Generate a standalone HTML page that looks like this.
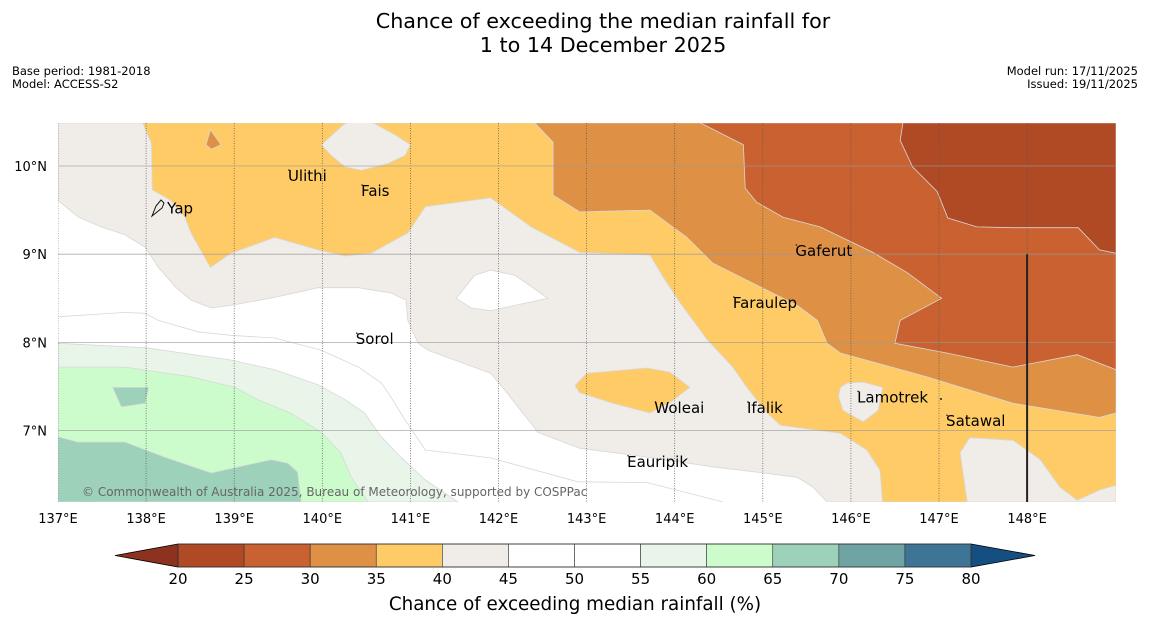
<!DOCTYPE html>
<html><head><meta charset="utf-8">
<style>
html,body{margin:0;padding:0;background:#fff;}
svg{display:block;font-family:"DejaVu Sans","Liberation Sans",sans-serif;}
</style></head>
<body>
<svg id="chart" width="1150" height="644" viewBox="0 0 1150 644" xmlns="http://www.w3.org/2000/svg">
<rect x="0" y="0" width="1150" height="644" fill="#fff"/>
<text x="603" y="28" font-size="20.7" text-anchor="middle" fill="#000">Chance of exceeding the median rainfall for</text>
<text x="603" y="52" font-size="20.7" text-anchor="middle" fill="#000">1 to 14 December 2025</text>
<text x="12" y="75" font-size="11.5">Base period: 1981-2018</text>
<text x="12" y="88" font-size="11.5">Model: ACCESS-S2</text>
<text x="1138" y="75" font-size="11.5" text-anchor="end">Model run: 17/11/2025</text>
<text x="1138" y="88" font-size="11.5" text-anchor="end">Issued: 19/11/2025</text>
<defs><clipPath id="mapclip"><rect x="58" y="123" width="1058" height="379"/></clipPath></defs>
<g id="map" clip-path="url(#mapclip)"></g>
<g id="axes"></g>
<g id="cbar"></g>
<text x="575" y="610" font-size="18.3" text-anchor="middle">Chance of exceeding median rainfall (%)</text>
</svg>
<script>
// ---- data ----
const lonTicks = [137,138,139,140,141,142,143,144,145,146,147,148];
const latTicks = [7,8,9,10];
const levelBounds = [20,25,30,35,40,45,50,55,60,65,70,75,80];
const levelColors = ["#b04a25","#c96230","#de9045","#fecb66","#f0ece7","#ffffff","#ffffff","#eaf5ea","#ccfccb","#9dd1ba","#6fa4a4","#3e7597"];
const underColor = "#8e3220";
const overColor = "#154e80";
const region40 = [[137,10.49],[149.01,10.49],[149.01,6.19],[145.73,6.19],[145.57,6.36],[145.39,6.47],[145.00,6.52],[144.43,6.59],[143.69,6.70],[142.92,6.80],[142.45,6.98],[142.07,7.46],[141.91,7.65],[141.20,7.91],[141.09,7.99],[140.97,8.25],[140.95,8.48],[140.78,8.56],[140.41,8.62],[139.95,8.62],[139.46,8.51],[138.96,8.42],[138.74,8.39],[138.51,8.48],[138.33,8.63],[138.14,8.85],[137.99,9.08],[137.76,9.22],[137.49,9.31],[137.23,9.42],[137,9.61]];
const region45blob = [[141.52,8.50],[141.73,8.76],[141.91,8.82],[142.19,8.76],[142.56,8.50],[141.91,8.36],[141.69,8.39]];
const region35 = [[137.96,10.49],[149.01,10.49],[149.01,6.38],[148.83,6.33],[148.57,6.21],[148.37,6.36],[148.15,6.67],[147.84,6.89],[147.35,6.92],[147.24,6.75],[147.32,6.19],[146.36,6.19],[146.33,6.55],[146.18,6.78],[145.88,6.97],[145.20,7.06],[145.05,7.20],[144.82,7.49],[144.66,7.72],[144.37,8.03],[144.06,8.45],[143.87,8.74],[143.72,8.99],[142.92,9.02],[142.37,9.31],[141.91,9.64],[141.17,9.54],[140.97,9.24],[140.55,9.01],[140.26,8.98],[139.95,9.05],[139.46,9.19],[138.96,9.01],[138.73,8.85],[138.51,9.24],[138.44,9.42],[138.28,9.61],[138.07,9.73],[138.06,10.26]];
const region40blobTop = [[139.99,10.24],[140.23,10.46],[140.33,10.52],[140.52,10.52],[140.83,10.35],[141.00,10.24],[140.94,10.12],[140.75,10.03],[140.44,9.95],[140.26,9.99],[140.10,10.12]];
const region40blobLamotrek = [[145.88,7.49],[145.96,7.54],[146.14,7.55],[146.36,7.49],[146.31,7.23],[146.14,7.10],[145.91,7.23],[145.86,7.38]];
const region35blobWoleai = [[142.87,7.51],[143.00,7.65],[143.69,7.71],[143.95,7.66],[144.17,7.49],[143.95,7.32],[143.72,7.20],[143.30,7.31],[142.92,7.43]];
const region30 = [[142.41,10.49],[149.01,10.49],[149.01,7.20],[148.82,7.15],[147.84,7.31],[146.86,7.61],[145.88,7.88],[145.73,7.99],[145.62,8.25],[145.39,8.42],[144.97,8.63],[144.43,8.90],[144.14,9.19],[143.72,9.50],[142.92,9.48],[142.62,9.67],[142.62,10.27]];
const region30spot = [[138.73,10.41],[138.85,10.24],[138.74,10.19],[138.68,10.24]];
const region25 = [[144.29,10.49],[149.01,10.49],[149.01,7.69],[148.57,7.86],[147.84,7.72],[147.09,7.88],[146.50,7.99],[146.56,8.25],[147.03,8.50],[146.64,8.79],[146.25,9.02],[145.65,9.31],[145.23,9.42],[144.93,9.59],[144.80,9.75],[144.78,10.24]];
const region20 = [[146.59,10.49],[149.01,10.49],[149.01,9.01],[148.82,9.05],[148.58,9.30],[147.84,9.30],[147.43,9.31],[147.10,9.41],[146.98,9.71],[146.70,9.99],[146.56,10.29]];
const region55 = [[137,7.99],[137.99,7.94],[138.96,7.80],[139.46,7.69],[139.95,7.52],[140.26,7.35],[140.48,7.20],[140.67,6.93],[140.89,6.70],[141.17,6.44],[141.54,6.19],[137,6.19]];
const region60 = [[137,7.72],[137.76,7.72],[138.51,7.61],[139.01,7.49],[139.27,7.35],[139.64,7.20],[139.99,6.98],[140.21,6.75],[140.33,6.47],[140.52,6.19],[137,6.19]];
const region65 = [[137,6.93],[137.23,6.87],[137.76,6.87],[138.21,6.70],[138.74,6.52],[139.42,6.67],[139.61,6.63],[139.72,6.53],[139.76,6.19],[137,6.19]];
const region65square = [[137.62,7.49],[138.03,7.49],[137.99,7.31],[137.72,7.27]];
const contour50 = [[137,8.29],[137.76,8.34],[137.99,8.33],[138.14,8.25],[138.59,8.12],[138.96,8.08],[139.46,8.05],[139.99,7.91],[140.41,7.72],[140.67,7.54],[140.78,7.38],[140.94,7.12],[141.17,6.78],[141.91,6.69],[142.90,6.42],[143.69,6.41],[144.55,6.19]];
const placeNames = ["Ulithi","Fais","Yap","Gaferut","Faraulep","Sorol","Woleai","Ifalik","Lamotrek","Satawal","Eauripik"];
const placeLon = [139.61,140.44,138.24,145.37,144.66,140.38,143.77,144.82,146.07,147.08,143.46];
const placeLat = [9.83,9.66,9.46,8.98,8.39,7.98,7.20,7.20,7.32,7.05,6.59];

// ---- axis functions ----
const X0=58, PXLON=88.1, Y10=166, PXLAT=88.2;
function xs(lon){return X0+(lon-137)*PXLON;}
function ys(lat){return Y10-(lat-10)*PXLAT;}
const NS="http://www.w3.org/2000/svg";
function mk(tag,parent){const e=document.createElementNS(NS,tag);parent.appendChild(e);return e;}
const map=document.getElementById('map');
const axes=document.getElementById('axes');
const cbar=document.getElementById('cbar');
function colorFor(v){return levelColors[levelBounds.indexOf(v)];}
function pts(arr){return arr.map(p=>xs(p[0]).toFixed(1)+","+ys(p[1]).toFixed(1)).join(" ");}
function region(arr,level,name){
  const p=mk('polygon',map);
  
  
  p.setAttribute('points',pts(arr));
  p.setAttribute('fill',colorFor(level));
  p.setAttribute('stroke','#d8d8d8');
  p.setAttribute('stroke-width','0.8');
}
const bg=mk('rect',map);


bg.setAttribute('x',58);bg.setAttribute('y',123);bg.setAttribute('width',1058);bg.setAttribute('height',379);bg.setAttribute('fill','#ffffff');
region(region40,40,'region-40-45');
region(region45blob,45,'region-45-50-blob');
region(region35,35,'region-35-40');
region(region40blobTop,40,'region-40-45-north-blob');
region(region40blobLamotrek,40,'region-40-45-lamotrek-blob');
region(region35blobWoleai,35,'region-35-40-woleai-blob');
region(region30,30,'region-30-35');
region(region30spot,30,'region-30-35-spot');
region(region25,25,'region-25-30');
region(region20,20,'region-20-25');
region(region55,55,'region-55-60');
region(region60,60,'region-60-65');
region(region65,65,'region-65-70');
region(region65square,65,'region-65-70-square');
const cl=mk('polyline',map);


cl.setAttribute('points',pts(contour50));
cl.setAttribute('fill','none');cl.setAttribute('stroke','#d8d8d8');cl.setAttribute('stroke-width','0.8');

lonTicks.forEach(l=>{
  const g=mk('line',map);
  
  
  g.setAttribute('x1',xs(l));g.setAttribute('x2',xs(l));g.setAttribute('y1',123);g.setAttribute('y2',502);
  g.setAttribute('stroke','#555');g.setAttribute('stroke-width','0.7');g.setAttribute('stroke-dasharray','1,1.5');
  const t=mk('text',axes);
  
  
  t.setAttribute('x',xs(l));t.setAttribute('y',523);t.setAttribute('font-size','13');t.setAttribute('text-anchor','middle');
  t.textContent=l+"°E";
});
latTicks.forEach(l=>{
  const g=mk('line',map);
  
  
  g.setAttribute('x1',58);g.setAttribute('x2',1116);g.setAttribute('y1',ys(l));g.setAttribute('y2',ys(l));
  g.setAttribute('stroke','#999');g.setAttribute('stroke-width','0.8');g.setAttribute('opacity','0.8');
  const t=mk('text',axes);
  
  
  t.setAttribute('x',47);t.setAttribute('y',ys(l)+5);t.setAttribute('font-size','13');t.setAttribute('text-anchor','end');
  t.textContent=l+"°N";
});
const vl=mk('line',map);


vl.setAttribute('x1',xs(148));vl.setAttribute('x2',xs(148));vl.setAttribute('y1',ys(9));vl.setAttribute('y2',502);
vl.setAttribute('stroke','#222');vl.setAttribute('stroke-width','2');

placeNames.forEach((n,i)=>{
  const d=mk('circle',map);
  
  
  d.setAttribute('cx',xs(placeLon[i])+1);d.setAttribute('cy',ys(placeLat[i])-11);d.setAttribute('r','0.8');d.setAttribute('fill','#222');
  const t=mk('text',map);
  
  
  t.setAttribute('x',xs(placeLon[i]));t.setAttribute('y',ys(placeLat[i]));t.setAttribute('font-size','15');t.setAttribute('fill','#000');
  t.textContent=n;
});
const yapIsl=mk('path',map);


yapIsl.setAttribute('d','M152,216 L156,206 L161,200 L164,203 L162,208 L157,212 Z');
yapIsl.setAttribute('fill','none');yapIsl.setAttribute('stroke','#111');yapIsl.setAttribute('stroke-width','1');
const dot=mk('circle',map);


dot.setAttribute('cx',941);dot.setAttribute('cy',399);dot.setAttribute('r','1');dot.setAttribute('fill','#222');
const cp=mk('text',map);


cp.setAttribute('x',82);cp.setAttribute('y',496);cp.setAttribute('font-size','12');cp.setAttribute('fill','#666');
cp.textContent="© Commonwealth of Australia 2025, Bureau of Meteorology, supported by COSPPac";

const CB0=178, CB1=971, CBT=544, CBB=567;
function cx(v){return CB0+(v-20)*(CB1-CB0)/60;}
const lt=mk('polygon',cbar);


lt.setAttribute('points',`${cx(20)},${CBT} 115,${(CBT+CBB)/2} ${cx(20)},${CBB}`);
lt.setAttribute('fill',underColor);lt.setAttribute('stroke','#000');lt.setAttribute('stroke-width','0.8');
const rt=mk('polygon',cbar);


rt.setAttribute('points',`${cx(80)},${CBT} 1035,${(CBT+CBB)/2} ${cx(80)},${CBB}`);
rt.setAttribute('fill',overColor);rt.setAttribute('stroke','#000');rt.setAttribute('stroke-width','0.8');
levelColors.forEach((c,i)=>{
  const r=mk('rect',cbar);
  
  
  r.setAttribute('x',cx(levelBounds[i]));r.setAttribute('y',CBT);
  r.setAttribute('width',cx(levelBounds[i+1])-cx(levelBounds[i]));r.setAttribute('height',CBB-CBT);
  r.setAttribute('fill',c);r.setAttribute('stroke','#333');r.setAttribute('stroke-width','0.6');
});
const fr=mk('rect',cbar);


fr.setAttribute('x',CB0);fr.setAttribute('y',CBT);fr.setAttribute('width',CB1-CB0);fr.setAttribute('height',CBB-CBT);
fr.setAttribute('fill','none');fr.setAttribute('stroke','#333');fr.setAttribute('stroke-width','0.8');
levelBounds.forEach(v=>{
  const t=mk('text',cbar);
  
  
  t.setAttribute('x',cx(v));t.setAttribute('y',584);t.setAttribute('font-size','15');t.setAttribute('text-anchor','middle');
  t.textContent=v;
});
</script>
</body></html>
